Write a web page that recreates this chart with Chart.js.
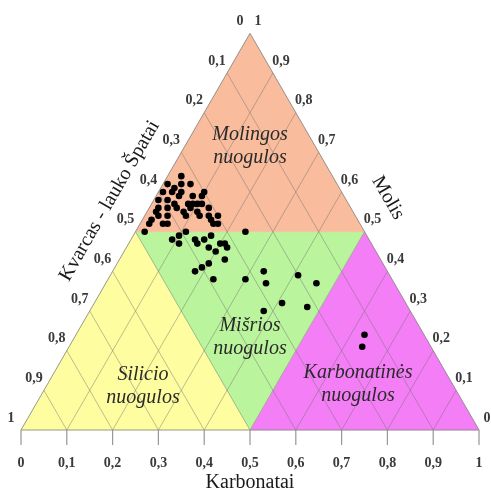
<!DOCTYPE html>
<html>
<head>
<meta charset="utf-8">
<script src="https://cdn.jsdelivr.net/npm/chart.js@4.4.1/dist/chart.umd.min.js"></script>
<style>
  html, body { margin: 0; padding: 0; background: #ffffff; overflow: hidden; }
  canvas { display: block; }
</style>
</head>
<body>
<canvas id="tern" width="491" height="493"></canvas>
<script>
// Sample composition (fractions): carbonates and clay; quartz-feldspar is the remainder
const karbonatai = [0.03, 0.06, 0.01, 0.03, 0.04, 0.05, 0.01, 0.03, 0.05, 0.10,
                    0.10, 0.08, 0.01, 0.03, 0.05, 0.08, 0.09, 0.10, 0.11, 0.02,
                    0.04, 0.06, 0.08, 0.09, 0.11, 0.13, 0.14, 0.09, 0.02, 0.03,
                    0.05, 0.02, 0.02, 0.05, 0.06, 0.12, 0.15, 0.16, 0.16, 0.17,
                    0.02, 0.11, 0.10, 0.09, 0.24, 0.14, 0.15, 0.16, 0.17, 0.11,
                    0.18, 0.20, 0.21, 0.22, 0.20, 0.23, 0.18, 0.19, 0.20, 0.23,
                    0.30, 0.33, 0.35, 0.41, 0.46, 0.41, 0.38, 0.47, 0.63, 0.64];
const molis      = [0.64, 0.62, 0.62, 0.61, 0.62, 0.60, 0.60, 0.60, 0.59, 0.60,
                    0.59, 0.59, 0.58, 0.58, 0.57, 0.57, 0.57, 0.57, 0.57, 0.56,
                    0.56, 0.56, 0.55, 0.56, 0.55, 0.56, 0.54, 0.54, 0.55, 0.54,
                    0.54, 0.53, 0.52, 0.52, 0.52, 0.54, 0.53, 0.52, 0.54, 0.52,
                    0.50, 0.50, 0.49, 0.48, 0.50, 0.48, 0.47, 0.48, 0.49, 0.47,
                    0.46, 0.47, 0.47, 0.46, 0.45, 0.43, 0.40, 0.41, 0.42, 0.38,
                    0.38, 0.40, 0.37, 0.39, 0.37, 0.32, 0.30, 0.31, 0.24, 0.21];

// Axis ticks
const tickValues = [0, 0.1, 0.2, 0.3, 0.4, 0.5, 0.6, 0.7, 0.8, 0.9, 1];
const tickLabels = ['0', '0,1', '0,2', '0,3', '0,4', '0,5', '0,6', '0,7', '0,8', '0,9', '1'];

// Classification fields (carbonate, clay) corners
const fieldNames = ['Molingos nuogulos', 'Mišrios nuogulos', 'Silicio nuogulos', 'Karbonatinės nuogulos'];
const fieldCorners = [
  [[0, 0.5], [0.5, 0.5], [0, 1]],
  [[0, 0.5], [0.5, 0.5], [0.5, 0]],
  [[0, 0], [0.5, 0], [0, 0.5]],
  [[0.5, 0], [1, 0], [0.5, 0.5]]
];
const fieldColors = ['#f9bc9c', '#baf49c', '#fefd9f', '#f47ef5'];

const H = Math.sqrt(3) / 2;
const U = 458; // pixels per unit side
const toXY = (c, m) => ({ x: c + m / 2, y: m * H });

const datasets = [];

// sample points
datasets.push({
  label: 'samples',
  data: karbonatai.map((c, i) => toXY(c, molis[i])),
  pointRadius: 3.3,
  pointBackgroundColor: '#000',
  pointBorderWidth: 0,
  showLine: false,
  order: 0
});

// outer triangle
datasets.push({
  label: 'outline',
  data: [toXY(0, 0), toXY(1, 0), toXY(0, 1), toXY(0, 0)],
  showLine: true, fill: false,
  borderColor: 'rgba(140,140,140,0.9)', borderWidth: 1,
  pointRadius: 0, order: 1
});

// inner grid: constant carbonate and constant quartz
tickValues.slice(1, -1).forEach(t => {
  datasets.push({
    data: [toXY(t, 0), toXY(t, 1 - t)],
    showLine: true, fill: false,
    borderColor: 'rgba(110,110,110,0.45)', borderWidth: 1,
    pointRadius: 0, order: 2
  });
  datasets.push({
    data: [toXY(1 - t, 0), toXY(0, 1 - t)],
    showLine: true, fill: false,
    borderColor: 'rgba(110,110,110,0.45)', borderWidth: 1,
    pointRadius: 0, order: 2
  });
});

// tick marks below the carbonate axis
tickValues.forEach(t => {
  datasets.push({
    data: [{ x: t, y: 0 }, { x: t, y: -15 / U }],
    showLine: true, fill: false,
    borderColor: 'rgba(140,140,140,0.9)', borderWidth: 1.2,
    pointRadius: 0, order: 2
  });
});

// coloured fields
fieldCorners.forEach((poly, i) => {
  const pts = poly.map(p => toXY(p[0], p[1]));
  pts.push(pts[0]);
  datasets.push({
    label: fieldNames[i],
    data: pts,
    showLine: true,
    fill: 'shape',
    backgroundColor: fieldColors[i],
    borderColor: fieldColors[i],
    borderWidth: 0.5,
    pointRadius: 0,
    order: 5
  });
});

const labelsPlugin = {
  id: 'ternaryLabels',
  afterDatasetsDraw(chart) {
    const { ctx, scales } = chart;
    const px = (c, m) => {
      const p = toXY(c, m);
      return [scales.x.getPixelForValue(p.x), scales.y.getPixelForValue(p.y)];
    };
    ctx.save();
    ctx.textAlign = 'center';
    ctx.textBaseline = 'middle';

    // tick labels
    ctx.fillStyle = '#3a3a3a';
    ctx.font = 'bold 14px "Liberation Serif"';
    tickValues.forEach((t, i) => {
      const [bx, by] = px(t, 0);
      ctx.fillText(tickLabels[i], bx, by + 33);
      const [lx, ly] = px(0, 1 - t); // quartz = t
      ctx.fillText(tickLabels[i], lx - 10, ly - 12);
      const [rx, ry] = px(1 - t, t); // clay = t
      ctx.fillText(tickLabels[i], rx + 8, ry - 12);
    });

    // axis titles
    ctx.fillStyle = '#1a1a1a';
    ctx.font = '20px "Liberation Serif"';
    const [kx, ky] = px(0.5, 0);
    ctx.fillText('Karbonatai', kx, ky + 53);

    const [ax, ay] = px(0, 0.57);
    ctx.save();
    ctx.translate(ax - 42, ay - 3);
    ctx.rotate(-Math.PI / 3);
    ctx.fillText('Kvarcas - lauko Špatai', 0, 0);
    ctx.restore();

    const [mx, my] = px(0.45, 0.55);
    ctx.save();
    ctx.translate(mx + 35, my - 14);
    ctx.rotate(Math.PI / 3);
    ctx.fillText('Molis', 0, 0);
    ctx.restore();

    // field names
    ctx.fillStyle = '#2a2a2a';
    ctx.font = 'italic 20px "Liberation Serif"';
    const fieldText = [
      ['Molingos', 'nuogulos', 250, 135],
      ['Mišrios', 'nuogulos', 250, 326],
      ['Silicio', 'nuogulos', 143, 375],
      ['Karbonatinės', 'nuogulos', 358, 373]
    ];
    fieldText.forEach(([a, b, x, y]) => {
      ctx.fillText(a, x, y);
      ctx.fillText(b, x, y + 23);
    });
    ctx.restore();
  }
};

new Chart(document.getElementById('tern'), {
  type: 'scatter',
  data: { datasets },
  options: {
    responsive: false,
    animation: false,
    layout: { padding: 0, autoPadding: false },
    plugins: { legend: { display: false }, tooltip: { enabled: false } },
    scales: {
      x: { type: 'linear', display: false, min: -21 / U, max: 470 / U },
      y: { type: 'linear', display: false, min: -63 / U, max: 430 / U }
    }
  },
  plugins: [labelsPlugin]
});
</script>
</body>
</html>
